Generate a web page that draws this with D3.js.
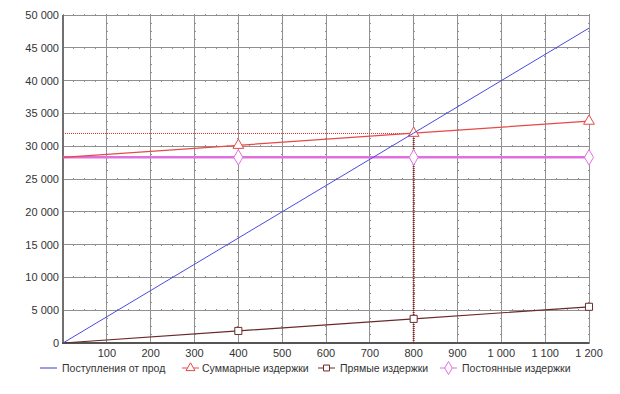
<!DOCTYPE html>
<html lang="ru">
<head>
<meta charset="UTF-8">
<title>Точка безубыточности</title>
<script src="https://d3js.org/d3.v7.min.js"></script>
<style>
  body { margin: 0; background: #fff; }
  svg text { font-family: "Liberation Sans", Arial, sans-serif; font-size: 11px; fill: #333; }
  svg .legend text { font-size: 10.5px; }
</style>
</head>
<body>
<svg width="620" height="394"></svg>
<script>
// data
const units = [0, 400, 800, 1200];
const revenue = [0, 16000, 32000, 48000];
const totalCost = [28300, 30140, 31980, 33820];
const directCost = [0, 1840, 3680, 5520];
const fixedCost = [28300, 28300, 28300, 28300];
const breakEvenUnits = 800;
const breakEvenValue = 32000;

const xTicks = [100, 200, 300, 400, 500, 600, 700, 800, 900, 1000, 1100, 1200];
const yTicks = [0, 5000, 10000, 15000, 20000, 25000, 30000, 35000, 40000, 45000, 50000];
const seriesNames = ["Поступления от прод", "Суммарные издержки", "Прямые издержки", "Постоянные издержки"];

const svg = d3.select("svg");

const x = d3.scaleLinear().domain([0, 1200]).range([63, 589]);
const y = d3.scaleLinear().domain([0, 50000]).range([343, 15]);

const fmt = v => d3.format(",")(v).replace(/,/g, " ");

// grid
const gridColor = "#909090";
const grid = svg.append("g");
grid.selectAll(".gx").data(xTicks).enter().append("line")
    .attr("x1", d => x(d)).attr("x2", d => x(d))
    .attr("y1", y(0)).attr("y2", y(50000))
    .attr("stroke", gridColor).attr("shape-rendering", "crispEdges");
grid.selectAll(".gy").data(yTicks.slice(1)).enter().append("line")
    .attr("x1", x(0)).attr("x2", x(1200))
    .attr("y1", d => y(d)).attr("y2", d => y(d))
    .attr("stroke", gridColor).attr("shape-rendering", "crispEdges");

// minor ticks along grid lines
const minorX = d3.range(0, 1201, 25);
const minorY = d3.range(0, 50001, 1250);
yTicks.slice(1).forEach(v => {
  grid.append("g").selectAll("line").data(minorX).enter().append("line")
      .attr("x1", d => x(d)).attr("x2", d => x(d))
      .attr("y1", y(v) - 1).attr("y2", y(v) + 1)
      .attr("stroke", gridColor).attr("shape-rendering", "crispEdges");
});
xTicks.forEach(v => {
  grid.append("g").selectAll("line").data(minorY).enter().append("line")
      .attr("x1", x(v) - 1).attr("x2", x(v) + 1)
      .attr("y1", d => y(d)).attr("y2", d => y(d))
      .attr("stroke", gridColor).attr("shape-rendering", "crispEdges");
});

// axes
svg.append("line").attr("x1", x(0)).attr("x2", x(0)).attr("y1", y(0) + 1).attr("y2", y(50000))
    .attr("stroke", "#707070").attr("stroke-width", 2);
svg.append("line").attr("x1", x(0) - 1).attr("x2", x(1200)).attr("y1", y(0)).attr("y2", y(0))
    .attr("stroke", "#555").attr("stroke-width", 2);

svg.append("g").selectAll("text").data(yTicks).enter().append("text")
    .attr("x", x(0) - 4).attr("y", d => y(d) + 4)
    .attr("text-anchor", "end").text(fmt);
svg.append("g").selectAll("text").data(xTicks).enter().append("text")
    .attr("x", d => x(d)).attr("y", y(0) + 14)
    .attr("text-anchor", "middle").text(fmt);

// break-even guides
svg.append("line").attr("x1", x(0)).attr("x2", x(breakEvenUnits))
    .attr("y1", Math.round(y(breakEvenValue)) + 0.5).attr("y2", Math.round(y(breakEvenValue)) + 0.5)
    .attr("stroke", "#f03030").attr("stroke-dasharray", "1,1");
svg.append("line").attr("x1", x(breakEvenUnits)).attr("x2", x(breakEvenUnits))
    .attr("y1", y(0)).attr("y2", y(breakEvenValue))
    .attr("stroke", "#9a2020").attr("stroke-width", 2).attr("stroke-dasharray", "1,1");

const line = vals => d3.line().x((d, i) => x(units[i])).y(d => y(d))(vals);

const series = [
  { vals: fixedCost, color: "#e070e0", width: 2.5, marker: "diamond" },
  { vals: directCost, color: "#6a2a2a", width: 1.2, marker: "square" },
  { vals: totalCost, color: "#e84848", width: 1.2, marker: "triangle" },
  { vals: revenue, color: "#4a4ae0", width: 1, marker: null }
];

const symbols = { diamond: d3.symbolDiamond, square: d3.symbolSquare, triangle: d3.symbolTriangle };
const symSize = { diamond: 70, square: 50, triangle: 50 };

series.forEach(s => {
  svg.append("path").attr("d", line(s.vals))
      .attr("fill", "none").attr("stroke", s.color).attr("stroke-width", s.width);
  if (s.marker) {
    svg.append("g").selectAll("path").data(s.vals.slice(1)).enter().append("path")
        .attr("transform", (d, i) => `translate(${x(units[i + 1])},${y(d)})`)
        .attr("d", d3.symbol().type(symbols[s.marker]).size(symSize[s.marker]))
        .attr("fill", "#fff").attr("stroke", s.color).attr("stroke-width", 1);
  }
});

// legend
const legendItems = [
  { name: seriesNames[0], color: "#3a3ad0", marker: null, x0: 40, tx: 62 },
  { name: seriesNames[1], color: "#e84848", marker: "triangle", x0: 182, tx: 202 },
  { name: seriesNames[2], color: "#6a2a2a", marker: "square", x0: 318, tx: 340 },
  { name: seriesNames[3], color: "#e070e0", marker: "diamond", x0: 440, tx: 462 }
];
const ly = 368;
const lg = svg.append("g").attr("class", "legend");
legendItems.forEach(it => {
  lg.append("line").attr("x1", it.x0).attr("x2", it.x0 + 17).attr("y1", ly).attr("y2", ly)
      .attr("stroke", it.color);
  if (it.marker) {
    lg.append("path").attr("transform", `translate(${it.x0 + 8.5},${ly})`)
        .attr("d", d3.symbol().type(symbols[it.marker]).size(symSize[it.marker] * 0.7))
        .attr("fill", "#fff").attr("stroke", it.color);
  }
  lg.append("text").attr("x", it.tx).attr("y", ly + 4).text(it.name);
});
</script>
</body>
</html>
